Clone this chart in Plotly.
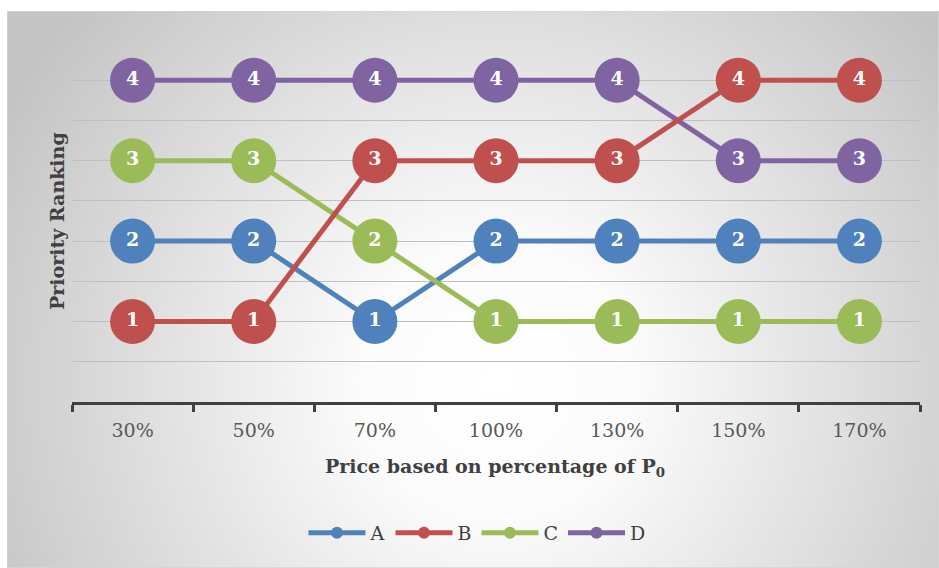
import base64
import plotly.graph_objects as go

# ---- data ----
categories = ["30%", "50%", "70%", "100%", "130%", "150%", "170%"]
series_names = ["A", "B", "C", "D"]
rank_A = [2, 2, 1, 2, 2, 2, 2]
rank_B = [1, 1, 3, 3, 3, 4, 4]
rank_C = [3, 3, 2, 1, 1, 1, 1]
rank_D = [4, 4, 4, 4, 4, 3, 3]
x_title = "Price based on percentage of P<sub>0</sub>"
y_title = "Priority Ranking"

colors = {"A": "#4F81BD", "B": "#C0504D", "C": "#9BBB59", "D": "#8064A2"}
values = {"A": rank_A, "B": rank_B, "C": rank_C, "D": rank_D}
legend_rank = {"A": 1, "B": 2, "C": 3, "D": 4}
draw_order = ["A", "C", "D", "B"]

W, H = 939, 568
ML, MR, MT, MB = 72, 19, 40, 166
PW, PH = W - ML - MR, H - MT - MB

def px_x(p):
    return (p - ML) / PW

def px_y(p):
    return (H - MB - p) / PH

FONT = "DejaVu Serif"

fig = go.Figure()

for s in draw_order:
    fig.add_trace(go.Scatter(
        x=categories, y=values[s], name=s, mode="lines+markers",
        line=dict(color=colors[s], width=5),
        marker=dict(color=colors[s], size=45, line=dict(width=0)),
        legendrank=legend_rank[s], hoverinfo="skip",
    ))

for s in draw_order:
    fig.add_trace(go.Scatter(
        x=categories, y=values[s], mode="text", showlegend=False,
        text=[str(v) for v in values[s]],
        textposition="middle center",
        textfont=dict(family=FONT, size=19, color="white", weight="bold"),
        hoverinfo="skip",
    ))

# radial gradient background (style only)
svg = (
    '<svg xmlns="http://www.w3.org/2000/svg" width="932" height="557" viewBox="0 0 932 557" preserveAspectRatio="none">'
    '<defs><radialGradient id="g" cx="490" cy="370" r="560" gradientUnits="userSpaceOnUse">'
    '<stop offset="0" stop-color="#ffffff"/><stop offset="0.25" stop-color="#fbfbfb"/>'
    '<stop offset="1" stop-color="#c4c4c4"/></radialGradient></defs>'
    '<rect x="0" y="0" width="932" height="557" fill="url(#g)" stroke="#d4d4d4" stroke-width="1.5"/></svg>'
)
src = "data:image/svg+xml;base64," + base64.b64encode(svg.encode()).decode()
bx0, by0, bx1, by1 = 7, 11, 939, 568
fig.add_layout_image(dict(
    source=src, xref="paper", yref="paper",
    x=px_x(bx0), y=px_y(by0),
    sizex=(bx1 - bx0) / PW, sizey=(by1 - by0) / PH,
    xanchor="left", yanchor="top", sizing="stretch", layer="below",
))

fig.update_layout(
    width=W, height=H,
    margin=dict(l=ML, r=MR, t=MT, b=MB),
    paper_bgcolor="white", plot_bgcolor="rgba(0,0,0,0)",
    showlegend=True,
    legend=dict(
        orientation="h", x=px_x(477), xanchor="center", y=px_y(533), yanchor="middle",
        font=dict(family=FONT, size=19, color="#404040"),
        bgcolor="rgba(0,0,0,0)", itemsizing="constant", itemwidth=57,
        traceorder="normal",
    ),
    xaxis=dict(
        type="category", range=[-0.5, 6.5], tickson="boundaries",
        showgrid=False, showline=True, linecolor="#404040", linewidth=3,
        ticks="outside", ticklen=7, tickwidth=3, tickcolor="#404040",
        tickfont=dict(family=FONT, size=19, color="#595959"),
        ticklabelstandoff=9,
    ),
    yaxis=dict(
        range=[0, 4.5], dtick=0.5, tick0=0, showticklabels=False,
        showgrid=True, gridcolor="#bfbfbf", gridwidth=1.2,
        zeroline=False, showline=False, fixedrange=True,
    ),
    annotations=[
        dict(text="<b>" + x_title + "</b>", xref="paper", yref="paper",
             x=px_x(495), y=px_y(467), showarrow=False, xanchor="center", yanchor="middle",
             font=dict(family=FONT, size=19, color="#404040")),
        dict(text="<b>" + y_title + "</b>", xref="paper", yref="paper",
             x=px_x(57), y=px_y(221), showarrow=False, textangle=-90,
             xanchor="center", yanchor="middle",
             font=dict(family=FONT, size=19, color="#404040")),
    ],
)

fig.write_html("out.html")
